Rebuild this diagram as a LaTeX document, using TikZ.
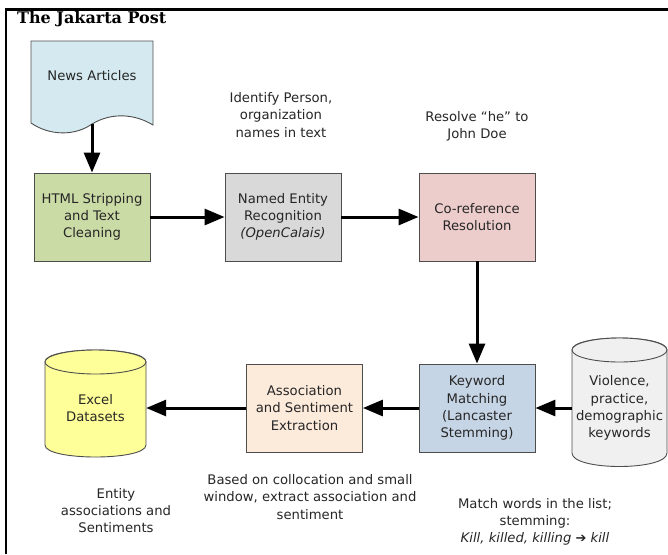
\documentclass[tikz,border=0pt]{standalone}
\usepackage{fontspec}
\setmainfont{DejaVu Sans}
\newfontfamily\titlefont{DejaVu Serif}
\usepackage{tikz}
\usetikzlibrary{arrows.meta}
\definecolor{newsblue}{RGB}{213,234,240}
\definecolor{stripgreen}{RGB}{203,219,166}
\definecolor{nergray}{RGB}{217,217,217}
\definecolor{corefpink}{RGB}{237,204,204}
\definecolor{kwblue}{RGB}{198,213,230}
\definecolor{assocpeach}{RGB}{252,234,219}
\definecolor{excelyellow}{RGB}{255,255,153}
\definecolor{dbgray}{RGB}{240,240,240}
\definecolor{edgegray}{RGB}{77,77,77}

\begin{document}
\begin{tikzpicture}[x=1pt,y=-1pt,
		txt/.style={font=\fontsize{13.2}{17.2}\selectfont,text=black!85,align=center,inner sep=0pt},
		proc/.style={txt,draw=edgegray,line width=0.9pt,minimum width=116pt,minimum height=88pt},
		flow/.style={line width=3pt,-{Triangle[length=20pt,width=16pt]}}]
		\useasboundingbox (0,0) rectangle (668,554);
		% frame and title
		\draw[line width=2.5pt] (6,554) -- (6,9.5) -- (668,9.5);
		\node[anchor=west,inner sep=0pt,font=\titlefont\bfseries\fontsize{16}{18}\selectfont] (title) at (17,19.5) {The Jakarta Post};
		% document shape
		\draw[fill=newsblue,draw=edgegray,line width=0.9pt] (31,41) -- (153,41) -- (153,125)
			.. controls (135,114) and (112,112) .. (92,124)
			.. controls (75,136) and (50,136) .. (31,123) -- cycle;
		\node[txt] (news) at (92,76) {News Articles};
		\coordinate (newsout) at (92,124);
		% process boxes
		\node[proc,fill=stripgreen] (html) at (92,217) {HTML Stripping\\and Text\\Cleaning};
		\node[proc,fill=nergray] (ner) at (283,217) {Named Entity\\Recognition\\\textit{(OpenCalais)}};
		\node[proc,fill=corefpink] (coref) at (477,217) {Co-reference\\Resolution};
		\node[proc,fill=kwblue] (kw) at (477,408) {Keyword\\Matching\\(Lancaster\\Stemming)};
		\node[proc,fill=assocpeach] (assoc) at (304.5,408) {Association\\and Sentiment\\Extraction};
		% cylinders
		\draw[fill=excelyellow,draw=edgegray,line width=0.9pt] (45,362) -- (45,445)
			.. controls (45,461) and (146,461) .. (146,445) -- (146,362)
			.. controls (146,346) and (45,346) .. (45,362) -- cycle;
		\draw[fill=excelyellow,draw=edgegray,line width=0.9pt] (95.5,362) ellipse [x radius=50.5,y radius=12];
		\node[txt,minimum width=101pt,minimum height=90pt] (excel) at (95.5,408) {Excel\\Datasets};
		\draw[fill=dbgray,draw=edgegray,line width=0.9pt] (572,350) -- (572,453)
			.. controls (572,471) and (667,471) .. (667,453) -- (667,350)
			.. controls (667,334) and (572,334) .. (572,350) -- cycle;
		\draw[fill=dbgray,draw=edgegray,line width=0.9pt] (619.5,350) ellipse [x radius=47.5,y radius=12];
		\node[txt,minimum width=95pt,minimum height=90pt] (kwdb) at (619.5,408) {Violence,\\practice,\\demographic\\keywords};
		% flow
		\draw[flow] (newsout) -- (html.north);
		\draw[flow] (html) -- (ner);
		\draw[flow] (ner) -- (coref);
		\draw[flow] (coref) -- (kw);
		\draw[flow] (kwdb) -- (kw);
		\draw[flow] (kw) -- (assoc);
		\draw[flow] (assoc) -- (excel);
		% notes
		\node[txt] (idnote) at (281,115) {Identify Person,\\organization\\names in text};
		\node[txt] (resnote) at (477,126.5) {Resolve “he” to\\John Doe};
		\node[txt] (entnote) at (116,510.5) {Entity\\associations and\\Sentiments};
		\node[txt] (basenote) at (310,497) {Based on collocation and small\\window, extract association and\\sentiment};
		\node[txt] (matchnote) at (535,522) {Match words in the list;\\stemming:\\\textit{Kill, killed, killing} {\fontsize{13}{17}\selectfont\bfseries ➔} \textit{kill}};
	\end{tikzpicture}
\end{document}
